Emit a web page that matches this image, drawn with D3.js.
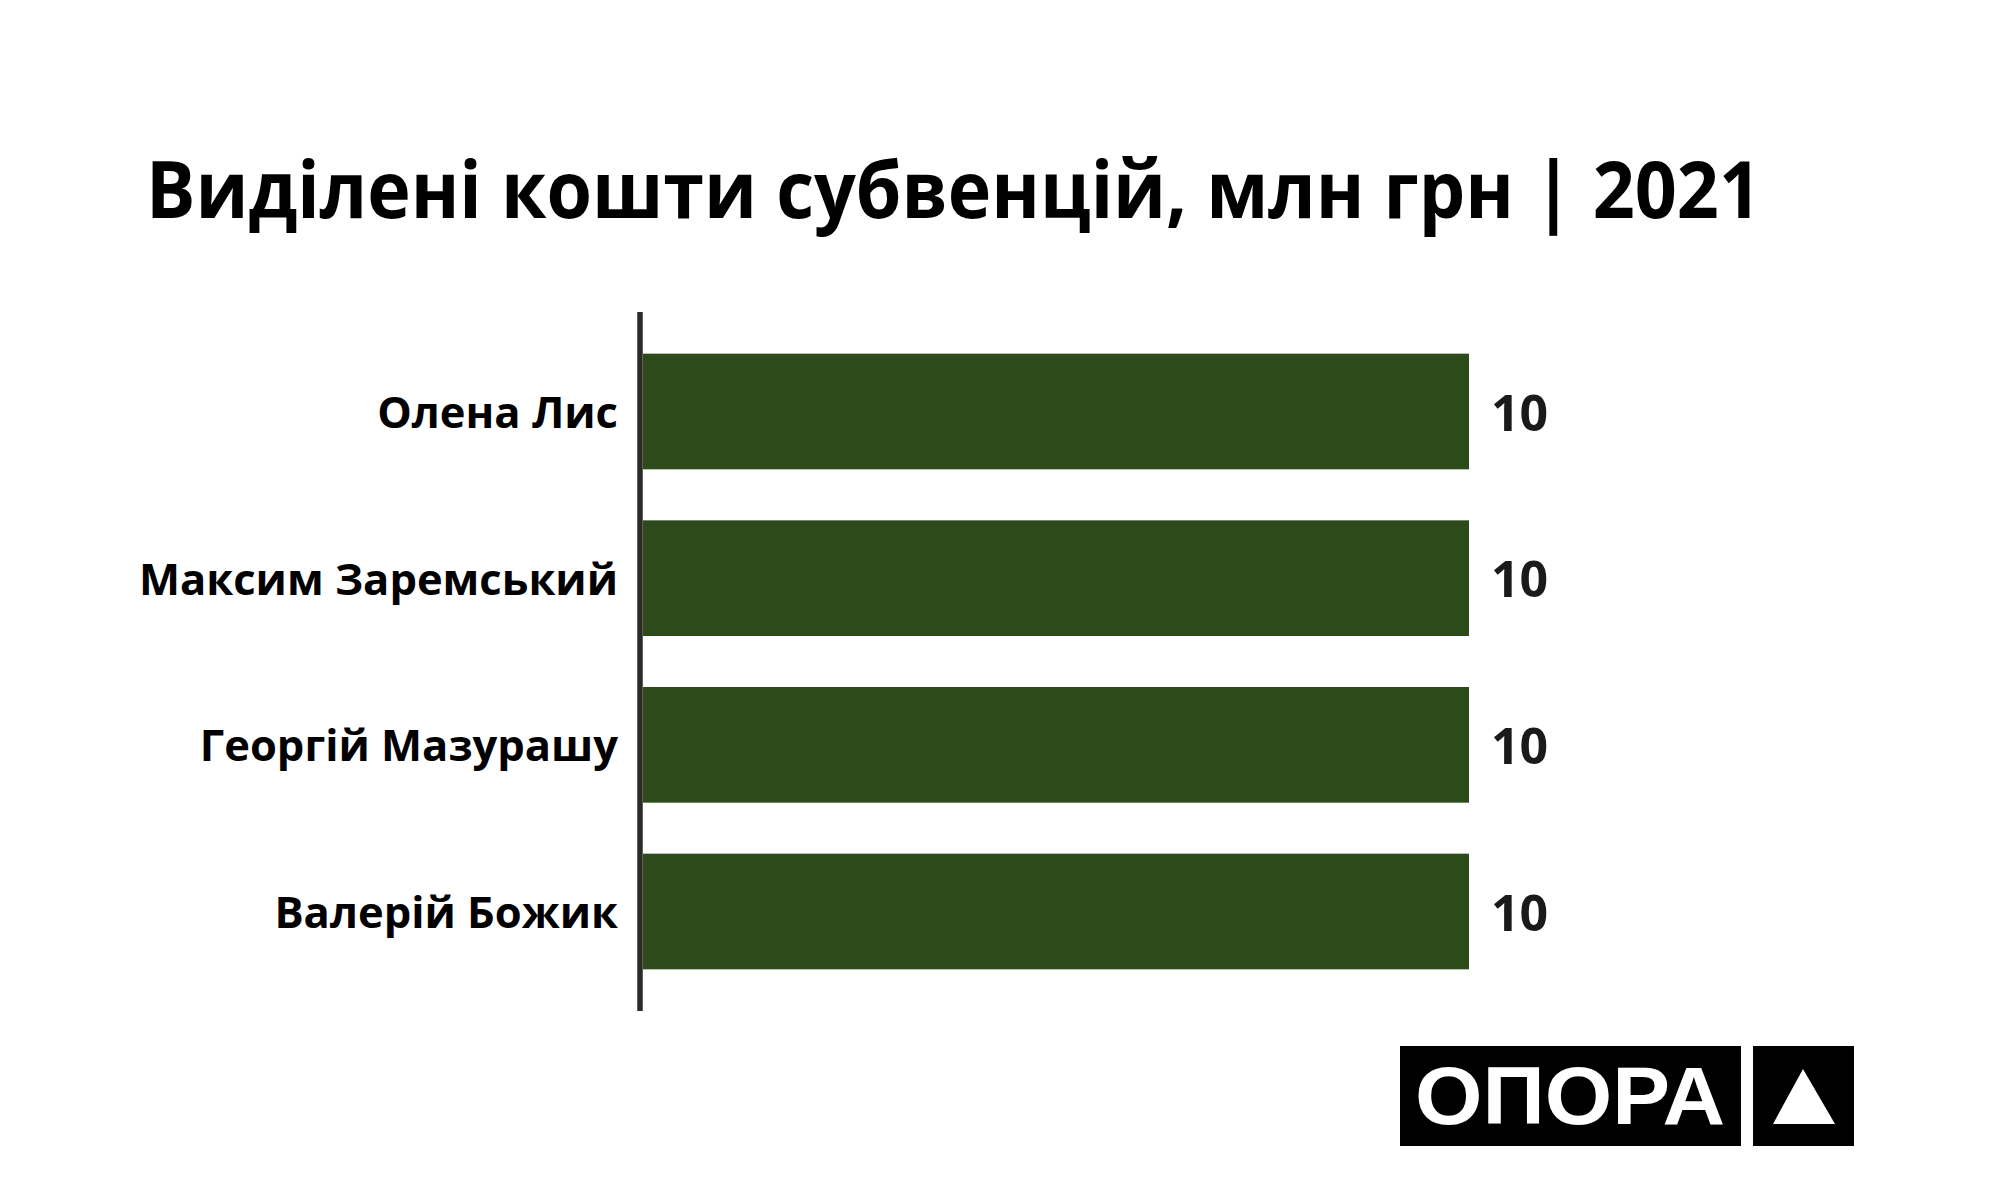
<!DOCTYPE html>
<html>
<head>
<meta charset="utf-8">
<script src="https://cdn.jsdelivr.net/npm/d3@7"></script>
<style>
  html, body { margin: 0; padding: 0; background: #ffffff; }
  svg { display: block; }
</style>
</head>
<body>
<svg id="chart" width="2000" height="1200"></svg>
<script>
const titleText = "Виділені кошти субвенцій, млн грн | 2021";
const categories = ["Олена Лис", "Максим Заремський", "Георгій Мазурашу", "Валерій Божик"];
const values = [10, 10, 10, 10];
const logoText = "ОПОРА";

const svg = d3.select("#chart");
svg.append("rect").attr("width", 2000).attr("height", 1200).attr("fill", "#ffffff");

// Title
svg.append("text")
  .attr("x", 146).attr("y", 218)
  .attr("font-family", "'Open Sans', sans-serif")
  .attr("font-weight", 700)
  .attr("font-size", 79)
  .attr("textLength", 1615)
  .attr("lengthAdjust", "spacingAndGlyphs")
  .attr("fill", "#000000")
  .text(titleText);

const x = d3.scaleLinear().domain([0, 10]).range([643, 1469]);
const y = d3.scaleBand().domain(categories).range([312, 1011]).paddingInner(0.306).paddingOuter(0.25);

const data = categories.map((c, i) => ({ name: c, value: values[i] }));

// Bars
svg.append("g").selectAll("rect").data(data).join("rect")
  .attr("x", x(0))
  .attr("y", d => y(d.name))
  .attr("width", d => x(d.value) - x(0))
  .attr("height", y.bandwidth())
  .attr("fill", "#2d4a1a");

// Axis line
svg.append("line")
  .attr("x1", 640).attr("x2", 640)
  .attr("y1", 312).attr("y2", 1011)
  .attr("stroke", "#2b2b25").attr("stroke-width", 5.5);

// Category labels
svg.append("g").selectAll("text").data(data).join("text")
  .attr("x", 618)
  .attr("y", d => y(d.name) + y.bandwidth() / 2 + 16.5)
  .attr("text-anchor", "end")
  .attr("font-family", "'Open Sans', sans-serif")
  .attr("font-weight", 700)
  .attr("font-size", 43.5)
  .attr("fill", "#000000")
  .text(d => d.name);

// Value labels
svg.append("g").selectAll("text").data(data).join("text")
  .attr("x", d => x(d.value) + 22)
  .attr("y", d => y(d.name) + y.bandwidth() / 2 + 19)
  .attr("font-family", "'Open Sans', sans-serif")
  .attr("font-weight", 700)
  .attr("font-size", 50)
  .attr("fill", "#1a1a1a")
  .text(d => d.value);

// Logo
const logo = svg.append("g");
logo.append("rect").attr("x", 1400).attr("y", 1046).attr("width", 341).attr("height", 100).attr("fill", "#000");
logo.append("rect").attr("x", 1753).attr("y", 1046).attr("width", 101).attr("height", 100).attr("fill", "#000");
logo.append("text")
  .attr("x", 1415).attr("y", 1124)
  .attr("font-family", "'Liberation Sans', Arial, sans-serif")
  .attr("font-weight", 700)
  .attr("font-size", 82)
  .attr("textLength", 310)
  .attr("lengthAdjust", "spacingAndGlyphs")
  .attr("fill", "#ffffff")
  .text(logoText);
logo.append("path")
  .attr("d", "M1803,1069 L1835,1124 L1773,1124 Z")
  .attr("fill", "#ffffff");
</script>
</body>
</html>
